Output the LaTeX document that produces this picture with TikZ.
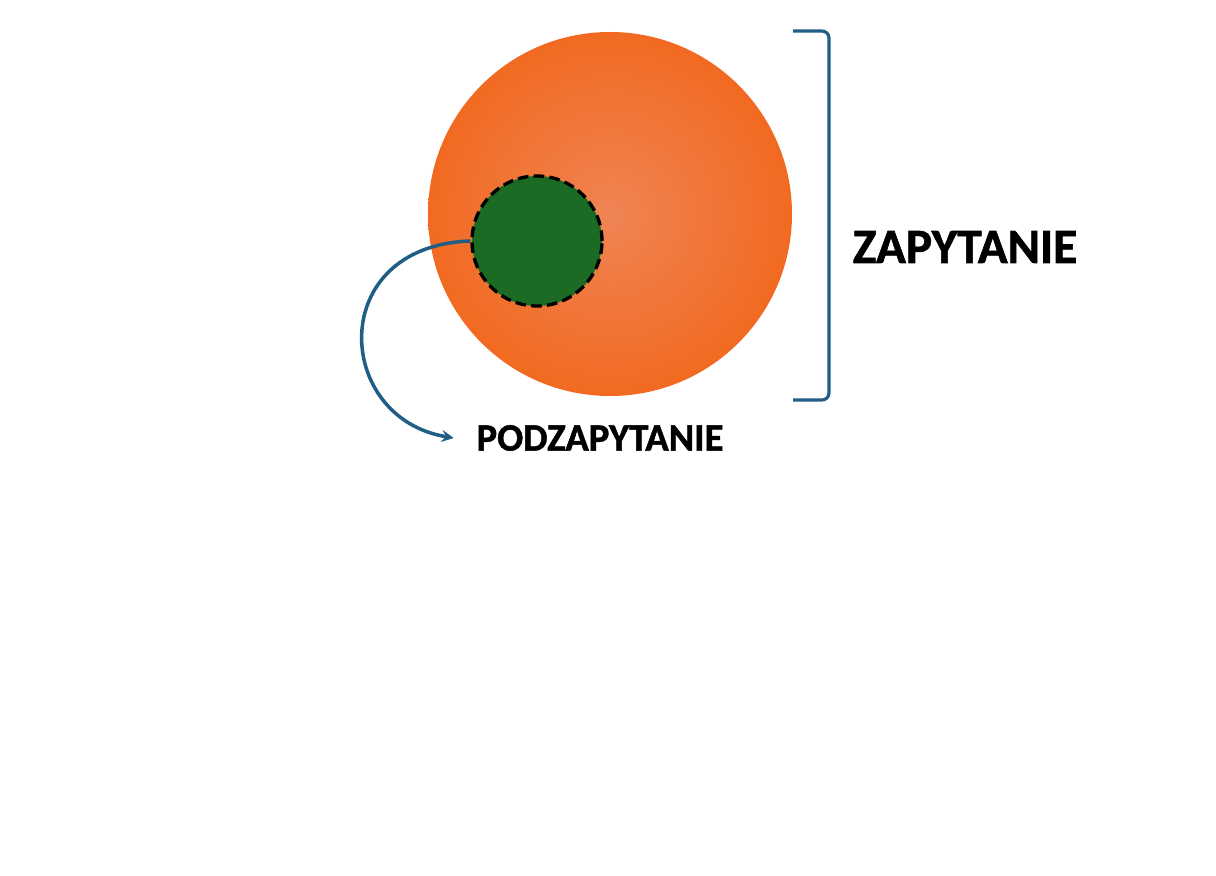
\documentclass[tikz,border=0pt]{standalone}
\usepackage{fontspec}
\setmainfont{Carlito}[BoldFeatures={FakeBold=1.3}]
\usetikzlibrary{shapes.geometric, arrows}
\definecolor{qorange}{HTML}{F26A21}
\definecolor{qlight}{HTML}{EF8454}
\definecolor{subgreen}{HTML}{1C6B25}
\definecolor{linkblue}{HTML}{215E86}
\tikzstyle{query} = [circle, minimum size=7.28cm, inner sep=0pt, inner color=qlight, outer color=qorange]
\tikzstyle{subquery} = [circle, minimum size=2.6cm, inner sep=0pt, fill=subgreen, draw=black, line width=1.9pt, dash pattern=on 6pt off 3pt]
\tikzstyle{biglabel} = [font=\bfseries\fontsize{28}{30}\selectfont, text=black, inner sep=0pt]
\tikzstyle{smalllabel} = [font=\bfseries\fontsize{22}{24}\selectfont, text=black, inner sep=0pt]
\tikzstyle{bracket} = [linkblue, line width=1.8pt, rounded corners=4pt]
\tikzstyle{arrow} = [linkblue, line width=2pt, ->, >=stealth]

\begin{document}
\begin{tikzpicture}
    \useasboundingbox[fill=white] (0,0) rectangle (24.32,17.52);
    \node (query) [query] at (12.2,13.24) {};
    \node (subquery) [subquery] at (10.74,12.7) {};
    \node (querylabel) [biglabel] at (19.3,12.58) {ZAPYTANIE};
    \node (sublabel) [smalllabel] at (12.0,8.76) {PODZAPYTANIE};
    \coordinate (brtop) at (15.86,16.9);
    \coordinate (brbottom) at (15.86,9.52);
    \draw [bracket] (brtop) -- (16.58,16.9) -- (16.58,9.52) -- (brbottom);
    \draw [arrow] (subquery.west) .. controls +(-2.9,-0.1) and +(-2.4,0.4) .. ([xshift=-0.45cm]sublabel.west);
\end{tikzpicture}
\end{document}
